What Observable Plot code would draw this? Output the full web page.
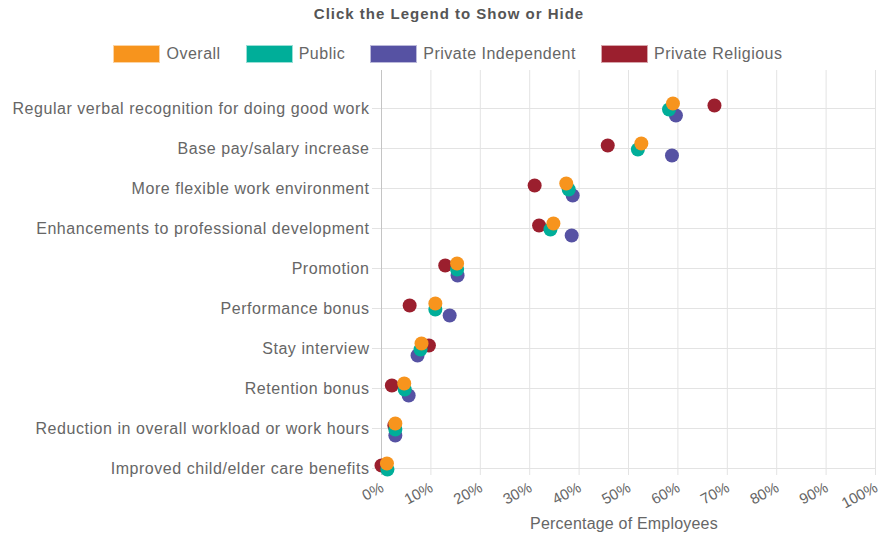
<!DOCTYPE html>
<html>
<head>
<meta charset="utf-8">
<script src="https://cdn.jsdelivr.net/npm/d3@7"></script>
<script src="https://cdn.jsdelivr.net/npm/@observablehq/plot@0.6"></script>
<style>
  html, body { margin: 0; padding: 0; background: #fff; }
  body { width: 882px; font-family: "Liberation Sans", Arial, sans-serif; }
  #header { height: 68px; position: relative; }
  #title { position: absolute; left: 0; width: 898px; top: 5px; text-align: center; font-weight: bold; font-size: 15px; letter-spacing: 1px; color: #555; }
  #legend { position: absolute; left: 0; width: 896px; top: 45px; display: flex; justify-content: center; gap: 25px; font-size: 16px; letter-spacing: 0.5px; color: #666; }
  .item { display: flex; align-items: center; gap: 6px; }
  .swatch { width: 45px; height: 16px; border: 1px solid rgba(255,255,255,0.6); box-sizing: content-box; }
  #chart svg { display: block; }
  #chart svg g[aria-label="y-axis tick label"] text { letter-spacing: 0.55px; }
  #chart svg g[aria-label="x-axis label"] text { letter-spacing: 0.2px; }
</style>
</head>
<body>
<div id="header">
  <div id="title">Click the Legend to Show or Hide</div>
  <div id="legend"></div>
</div>
<div id="chart"></div>
<script>
const categories = [
  "Regular verbal recognition for doing good work",
  "Base pay/salary increase",
  "More flexible work environment",
  "Enhancements to professional development",
  "Promotion",
  "Performance bonus",
  "Stay interview",
  "Retention bonus",
  "Reduction in overall workload or work hours",
  "Improved child/elder care benefits"
];
const seriesNames = ["Overall", "Public", "Private Independent", "Private Religious"];
const seriesColors = ["#F7941D", "#00AE99", "#5652A3", "#9B1F2E"];
const overall = [59.0, 52.6, 37.4, 34.8, 15.3, 10.9, 8.1, 4.6, 2.8, 1.1];
const publicSchools = [58.2, 51.9, 37.9, 34.2, 15.3, 10.9, 7.9, 4.7, 2.8, 1.2];
const privateIndependent = [59.6, 58.8, 38.7, 38.5, 15.4, 13.8, 7.3, 5.5, 2.8, null];
const privateReligious = [67.4, 45.8, 31.0, 31.9, 12.9, 5.7, 9.6, 2.1, 2.6, 0.0];
const xTicks = [0, 10, 20, 30, 40, 50, 60, 70, 80, 90, 100];

const seriesValues = [overall, publicSchools, privateIndependent, privateReligious];
const seriesDy = [-5, 1, 7, -3];

// legend
const legend = document.getElementById("legend");
seriesNames.forEach((name, i) => {
  const item = document.createElement("div");
  item.className = "item";
  const sw = document.createElement("div");
  sw.className = "swatch";
  sw.style.background = seriesColors[i];
  const label = document.createElement("span");
  label.textContent = name;
  item.appendChild(sw);
  item.appendChild(label);
  legend.appendChild(item);
});

const rows = seriesNames.map((name, i) =>
  categories.map((c, j) => ({series: name, category: c, value: seriesValues[i][j]}))
    .filter(d => d.value != null)
);

// draw order: last series at bottom, first on top
const dotMarks = [3, 2, 1, 0].map(i =>
  Plot.dot(rows[i], {x: "value", y: "category", r: 7, fill: seriesColors[i], dy: seriesDy[i]})
);

const chart = Plot.plot({
  width: 882,
  height: 472,
  marginTop: 2,
  marginBottom: 65,
  marginLeft: 372,
  marginRight: 7,
  style: {fontFamily: "Liberation Sans, Arial, sans-serif", color: "#666", background: "#fff"},
  x: {domain: [0, 100], insetLeft: 9, label: null},
  y: {type: "point", domain: categories, padding: 0, insetTop: 35, insetBottom: 5, label: null},
  marks: [
    Plot.gridX(xTicks, {stroke: "#e3e3e3", strokeOpacity: 1}),
    Plot.gridY(categories, {stroke: "#e3e3e3", strokeOpacity: 1}),
    Plot.ruleX([0], {stroke: "#c4c4c4"}),
    Plot.axisX(xTicks, {
      tickSize: 0, tickPadding: 11, tickRotate: -28, dx: 1,
      tickFormat: d => d + "%", fontSize: 15, fill: "#666"
    }),
    Plot.axisX({
      ticks: [], tickSize: 0,
      label: "Percentage of Employees", labelAnchor: "center", labelArrow: "none", labelOffset: 53,
      fontSize: 16, fill: "#666", dx: 13
    }),
    Plot.axisY({tickSize: 0, tickPadding: 3, fontSize: 16, fill: "#666", label: null}),
    ...dotMarks
  ]
});
document.getElementById("chart").appendChild(chart);
</script>
</body>
</html>
